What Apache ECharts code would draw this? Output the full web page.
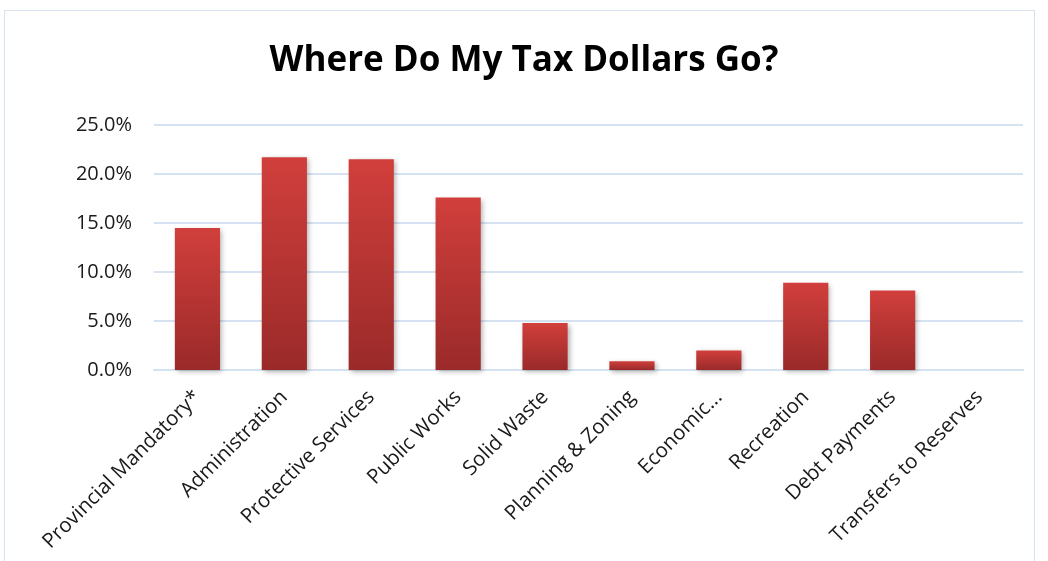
<!DOCTYPE html>
<html>
<head>
<meta charset="utf-8">
<script src="https://cdn.jsdelivr.net/npm/echarts@6/dist/echarts.min.js"></script>
<style>
html,body{margin:0;padding:0;background:#fff;}
#frame{position:absolute;left:4px;top:10px;width:1031px;height:560px;border:1px solid #d5e2f1;box-sizing:border-box;}
#chart{position:absolute;left:0;top:0;width:1048px;height:561px;}
</style>
</head>
<body>
<div id="frame"></div>
<div id="chart"></div>
<script>
const categories = ["Provincial Mandatory*","Administration","Protective Services","Public Works","Solid Waste","Planning & Zoning","Economic...","Recreation","Debt Payments","Transfers to Reserves"];
const shares = [14.5, 21.7, 21.5, 17.6, 4.8, 0.9, 2.0, 8.9, 8.1, 0];
const chartTitle = "Where Do My Tax Dollars Go?";

const chart = echarts.init(document.getElementById('chart'), null, {renderer:'canvas'});
chart.setOption({
  backgroundColor: 'transparent',
  animation: false,
  title: {
    text: chartTitle,
    left: 'center',
    top: 39,
    textStyle: {fontFamily: 'Open Sans', fontWeight: 'bold', fontSize: 35, color: '#000'}
  },
  grid: {left: 154, right: 25, top: 125, bottom: 191},
  xAxis: {
    type: 'category',
    data: categories,
    axisLine: {show: true, lineStyle: {color: '#d5e2f1', width: 2}},
    axisTick: {show: false},
    axisLabel: {rotate: 45, interval: 0, fontFamily: 'Open Sans', fontSize: 20.5, color: '#1a1a1a', margin: 24}
  },
  yAxis: {
    type: 'value',
    min: 0, max: 25, interval: 5,
    axisLine: {show: false},
    axisTick: {show: false},
    splitLine: {lineStyle: {color: '#d5e2f1', width: 2}},
    axisLabel: {formatter: v => v.toFixed(1) + '%', fontFamily: 'Open Sans', fontSize: 20, color: '#1a1a1a', margin: 22}
  },
  series: [{
    type: 'bar',
    data: shares,
    barWidth: '52%',
    itemStyle: {
      color: new echarts.graphic.LinearGradient(0, 0, 0, 1, [
        {offset: 0, color: '#d13f3c'},
        {offset: 1, color: '#9a2a29'}
      ]),
      shadowColor: 'rgba(0,0,0,0.3)',
      shadowBlur: 5,
      shadowOffsetX: 2,
      shadowOffsetY: 2
    }
  }]
});
</script>
</body>
</html>
